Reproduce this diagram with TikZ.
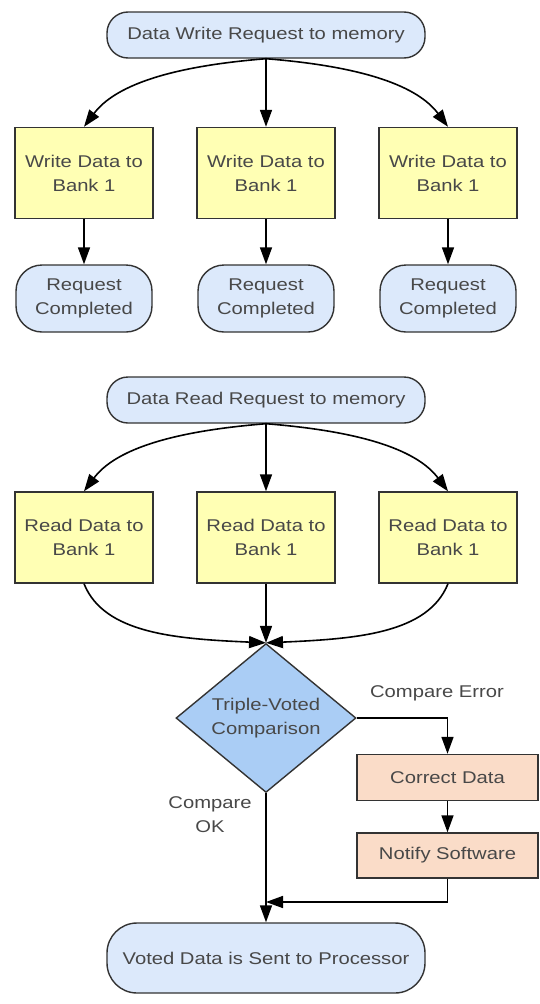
\documentclass[tikz,border=0pt]{standalone}
\usepackage{fontspec}
\setmainfont{Liberation Sans}[FakeStretch=1.19]
\usepackage{tikz}
\usetikzlibrary{arrows.meta, calc, shapes.geometric}

\definecolor{ovalblue}{HTML}{DCE9FB}
\definecolor{boxyellow}{HTML}{FFFFB4}
\definecolor{voteblue}{HTML}{AACDF5}
\definecolor{fixpink}{HTML}{FADCC8}
\definecolor{linegray}{HTML}{333333}
\definecolor{textgray}{HTML}{484848}

\begin{document}
\begin{tikzpicture} [x=1pt, y=-1pt,
	nodes={draw=linegray, line width=1.4pt, text=textgray, inner sep=0pt, align=center,
		font=\fontsize{17pt}{24pt}\selectfont},
	oval/.style={fill=ovalblue, rounded corners=21pt, minimum width=318pt, minimum height=46pt},
	done/.style={fill=ovalblue, rounded corners=26pt, minimum width=136pt, minimum height=67pt},
	bank/.style={fill=boxyellow, minimum width=138pt, minimum height=91pt},
	fixbox/.style={fill=fixpink, minimum width=181pt, minimum height=46pt},
	txt/.style={draw=none},
	arr/.style={draw=black, line width=1.6pt, -{Triangle[length=17pt, width=12pt]}}]
	
	\useasboundingbox (0,0) rectangle (540,1004);
	
	% write request
	\node[oval] (wreq) at (266,35) {Data Write Request to memory};
	\node[bank] (w1) at (84,173) {Write Data to\\Bank 1};
	\node[bank] (w2) at (266,173) {Write Data to\\Bank 1};
	\node[bank] (w3) at (448,173) {Write Data to\\Bank 1};
	\node[done] (c1) at (84,298.5) {Request\\Completed};
	\node[done] (c2) at (266,298.5) {Request\\Completed};
	\node[done] (c3) at (448,298.5) {Request\\Completed};
	
	\draw[arr] (wreq.south) .. controls +(-100,8) and +(30,-40) .. (w1.north);
	\draw[arr] (wreq.south) -- (w2.north);
	\draw[arr] (wreq.south) .. controls +(100,8) and +(-30,-40) .. (w3.north);
	\draw[arr] (w1) -- (c1);
	\draw[arr] (w2) -- (c2);
	\draw[arr] (w3) -- (c3);
	
	% read request
	\node[oval] (rreq) at (266,400) {Data Read Request to memory};
	\node[bank] (r1) at (84,537.5) {Read Data to\\Bank 1};
	\node[bank] (r2) at (266,537.5) {Read Data to\\Bank 1};
	\node[bank] (r3) at (448,537.5) {Read Data to\\Bank 1};
	\node[diamond, fill=voteblue, minimum width=180pt, minimum height=136pt] (vote) at (266,718) {Triple-Voted\\Comparison};
	\node[fixbox] (fix) at (447.5,777.5) {Correct Data};
	\node[fixbox, minimum height=45pt] (notify) at (447.5,855.5) {Notify Software};
	\node[oval, rounded corners=30pt, minimum height=70pt] (sent) at (266,958) {Voted Data is Sent to Processor};
	\node[txt] (err) at (437,693) {Compare Error};
	\node[txt] (ok) at (210,815) {Compare\\OK};
	\coordinate (join) at (vote.south |- 0,902);
	
	\draw[arr] (rreq.south) .. controls +(-100,8) and +(30,-40) .. (r1.north);
	\draw[arr] (rreq.south) -- (r2.north);
	\draw[arr] (rreq.south) .. controls +(100,8) and +(-30,-40) .. (r3.north);
	\draw[arr] (r1.south) .. controls +(20,50) and +(-90,-4) .. (vote.north);
	\draw[arr] (r2.south) -- (vote.north);
	\draw[arr] (r3.south) .. controls +(-20,50) and +(90,-4) .. (vote.north);
	\draw[arr] (vote.east) -| (fix.north);
	\draw[arr] (fix) -- (notify);
	\draw[arr] (notify.south) |- (join);
	\draw[arr] (vote.south) -- (sent.north);
	
\end{tikzpicture}
\end{document}
